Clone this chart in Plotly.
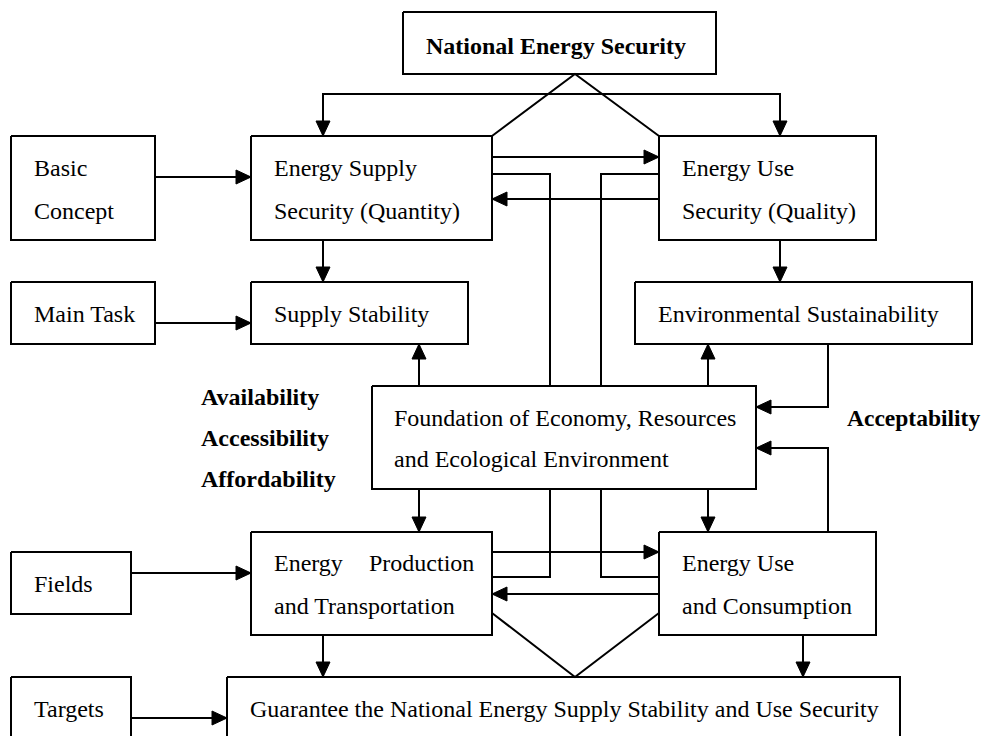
import plotly.graph_objects as go

# ---- boxes (pixel-like coordinate system, y grows downward) ----
box_x0 = [403, 11, 251, 659, 11, 251, 635, 372, 11, 251, 659, 11, 227]
box_x1 = [716, 155, 492, 876, 155, 468, 972, 756, 131, 492, 876, 131, 900]
box_y0 = [12, 136, 136, 136, 282, 282, 282, 386, 552, 532, 532, 677, 677]
box_y1 = [74, 240, 240, 240, 344, 344, 344, 489, 614, 635, 635, 760, 760]

# ---- text labels ----
label_text = [
    "National Energy Security",
    "Basic", "Concept",
    "Energy Supply", "Security (Quantity)",
    "Energy Use", "Security (Quality)",
    "Main Task", "Supply Stability", "Environmental Sustainability",
    "Availability", "Accessibility", "Affordability",
    "Foundation of Economy, Resources", "and Ecological Environment",
    "Acceptability",
    "Fields",
    "Energy", "Production", "and Transportation",
    "Energy Use", "and Consumption",
    "Targets",
    "Guarantee the National Energy Supply Stability and Use Security",
]
label_x = [424, 32, 32, 272, 272, 680, 680, 32, 272, 656, 199, 199, 199,
           392, 392, 845, 32, 272, 367, 272, 680, 680, 32, 248]
label_y = [46, 168, 211, 168, 211, 168, 211, 314, 314, 314, 397, 438, 479,
           418, 459, 418, 584, 563, 563, 606, 563, 606, 709, 709]
label_bold = [True, False, False, False, False, False, False, False, False, False,
              True, True, True, False, False, True, False, False, False, False,
              False, False, False, False]
label_size = [24, 24, 24, 24, 24, 24, 24, 24, 24, 24, 24, 24, 24,
              24, 24, 23.5, 24, 24, 24, 24, 24, 24, 24, 24]

# ---- connectors: polylines, and whether they end with an arrowhead ----
conn_x = [
    [323, 323, 780, 780], [155, 251], [492, 659], [659, 492],
    [492, 550, 550], [659, 601, 601], [492, 575, 659],
    [323, 323], [780, 780], [155, 251], [419, 419], [708, 708],
    [828, 828, 756], [828, 828, 756], [419, 419], [708, 708],
    [550, 550, 492], [601, 601, 659], [492, 659], [659, 492], [131, 251],
    [492, 575, 659], [323, 323], [803, 803], [131, 227],
]
conn_y = [
    [136, 94, 94, 136], [177, 177], [157, 157], [199, 199],
    [174, 174, 386], [174, 174, 386], [136, 74, 136],
    [240, 282], [240, 282], [323, 323], [386, 344], [386, 344],
    [344, 407, 407], [532, 448, 448], [489, 532], [489, 532],
    [489, 577, 577], [489, 577, 577], [552, 552], [594, 594], [573, 573],
    [613, 677, 613], [635, 677], [635, 677], [718, 718],
]
conn_head_end = [1, 1, 1, 1, 0, 0, 0, 1, 1, 1, 1, 1, 1, 1, 1, 1, 0, 0, 1, 1, 1, 0, 1, 1, 1]
conn_head_start = [1, 0, 0, 0, 0, 0, 0, 0, 0, 0, 0, 0, 0, 0, 0, 0, 0, 0, 0, 0, 0, 0, 0, 0, 0]

HEAD_LEN = 15
HEAD_HALF = 7


def head(tip, prev):
    dx, dy = tip[0] - prev[0], tip[1] - prev[1]
    n = (dx * dx + dy * dy) ** 0.5
    ux, uy = dx / n, dy / n
    bx, by = tip[0] - ux * HEAD_LEN, tip[1] - uy * HEAD_LEN
    px, py = -uy * HEAD_HALF, ux * HEAD_HALF
    return [tip[0], bx + px, bx - px, tip[0], None], [tip[1], by + py, by - py, tip[1], None]


line_x, line_y, hx, hy = [], [], [], []
for xs, ys, he, hs in zip(conn_x, conn_y, conn_head_end, conn_head_start):
    line_x += xs + [None]
    line_y += ys + [None]
    if he:
        a, b = head((xs[-1], ys[-1]), (xs[-2], ys[-2]))
        hx += a
        hy += b
    if hs:
        a, b = head((xs[0], ys[0]), (xs[1], ys[1]))
        hx += a
        hy += b

bx, by = [], []
for x0, x1, y0, y1 in zip(box_x0, box_x1, box_y0, box_y1):
    bx += [x0, x1, x1, x0, x0, None]
    by += [y0, y0, y1, y1, y0, None]

fig = go.Figure()
fig.add_trace(go.Scatter(x=bx, y=by, mode="lines", line=dict(color="black", width=2),
                         hoverinfo="skip", showlegend=False))
fig.add_trace(go.Scatter(x=line_x, y=line_y, mode="lines", line=dict(color="black", width=2),
                         hoverinfo="skip", showlegend=False))
fig.add_trace(go.Scatter(x=hx, y=hy, mode="lines", fill="toself", fillcolor="black",
                         line=dict(color="black", width=1), hoverinfo="skip", showlegend=False))

for t, x, y, b, s in zip(label_text, label_x, label_y, label_bold, label_size):
    fig.add_annotation(x=x, y=y, xref="x", yref="y", text=f"<b>{t}</b>" if b else t,
                       showarrow=False, xanchor="left", yanchor="middle",
                       font=dict(family="Liberation Serif", size=s, color="black"))

fig.update_layout(
    width=984, height=736, margin=dict(l=0, r=0, t=0, b=0),
    paper_bgcolor="white", plot_bgcolor="white",
    xaxis=dict(range=[0, 984], visible=False, fixedrange=True),
    yaxis=dict(range=[736, 0], visible=False, fixedrange=True),
)
fig.write_html("out.html", config={"displayModeBar": False},
               post_script="document.body.style.margin='0px';document.body.style.overflow='hidden';")
